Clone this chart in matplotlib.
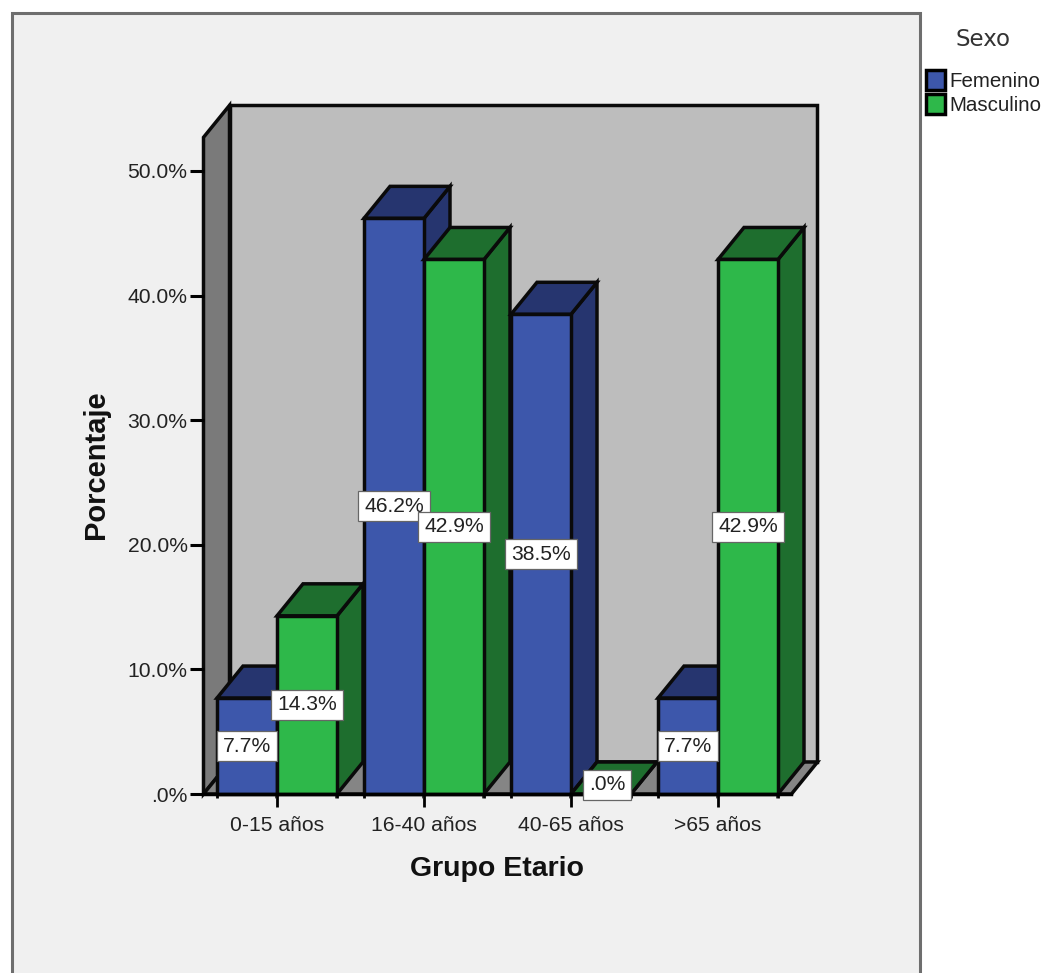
import matplotlib
matplotlib.use('Agg')
from matplotlib import pyplot as plt
from matplotlib.patches import Patch, Polygon, Rectangle

# Datos
grupos = ['0-15 años', '16-40 años', '40-65 años', '>65 años']
femenino = [7.7, 46.2, 38.5, 7.7]
masculino = [14.3, 42.9, 0.0, 42.9]
ticks_y = [0, 10, 20, 30, 40, 50]
ticks_y_txt = ['.0%', '10.0%', '20.0%', '30.0%', '40.0%', '50.0%']

# Colores: cara frontal, cara lateral/superior
azul = ('#3d57ab', '#26356f')
verde = ('#2eb84a', '#1e6e2e')

W, H = 1046, 973
fuente = 'Liberation Sans'
plt.rcParams['font.family'] = [fuente, 'DejaVu Sans']

fig = plt.figure(figsize=(W / 100, H / 100), dpi=100, facecolor='white')

# Panel gris de fondo, se corta en el borde inferior
fig.patches.append(Rectangle((12 / W, -0.02), 908 / W, 1.02 - 13 / H, transform=fig.transFigure,
                             facecolor='#f0f0f0', edgecolor='#6e6e6e', linewidth=2.2, zorder=-1))

# Ejes colocados sobre el plano frontal
izq, der, abajo, arriba = 203.5, 791.5, 794, 171
ax = fig.add_axes([izq / W, 1 - abajo / H, (der - izq) / W, (abajo - arriba) / H])
ax.set_xlim(-0.5, 3.5)
ax.set_ylim(0, 50)
ax.patch.set_visible(False)

# Profundidad del efecto 3D en unidades de datos
px_x = (der - izq) / 4
px_y = (abajo - arriba) / 50
dx = 26 / px_x
dy = 32 / px_y
ancho = 60 / px_x
techo = 52.7  # altura del plano frontal de las paredes
borde = 2.5


def poligono(puntos, color, z=1):
    ax.add_patch(Polygon(puntos, closed=True, facecolor=color, edgecolor='#0a0a0a',
                         linewidth=borde, joinstyle='miter', clip_on=False, zorder=z))


# Pared del fondo, pared izquierda y piso
x0, x1 = -0.5, 3.5
poligono([(x0 + dx, dy), (x1 + dx, dy), (x1 + dx, techo + dy), (x0 + dx, techo + dy)], '#bdbdbd')
poligono([(x0, 0), (x0 + dx, dy), (x0 + dx, techo + dy), (x0, techo)], '#7a7a7a')
poligono([(x0, 0), (x1, 0), (x1 + dx, dy), (x0 + dx, dy)], '#858585')


def barra(xi, valor, colores, z):
    xd = xi + ancho
    # cara lateral, cara superior y frente
    poligono([(xd, 0), (xd + dx, dy), (xd + dx, valor + dy), (xd, valor)], colores[1], z)
    poligono([(xi, valor), (xd, valor), (xd + dx, valor + dy), (xi + dx, valor + dy)], colores[1], z)
    poligono([(xi, 0), (xd, 0), (xd, valor), (xi, valor)], colores[0], z)


def etiqueta(x, y, valor, dx_px=0, dy_px=0):
    ax.annotate(f'{valor:.1f}%'.removeprefix('0'), (x, y), xytext=(dx_px * 0.72, dy_px * 0.72),
                textcoords='offset points', ha='center', va='center', fontsize=15.2,
                color='#222222', zorder=20, annotation_clip=False,
                bbox=dict(boxstyle='square,pad=0.27', facecolor='white', edgecolor='#666666', linewidth=0.9))


for i in range(len(grupos)):
    barra(i - ancho, femenino[i], azul, 3 + 2 * i)
    barra(i, masculino[i], verde, 4 + 2 * i)

for i in range(len(grupos)):
    etiqueta(i - ancho / 2, femenino[i] / 2, femenino[i])
    if masculino[i] == 0:
        # el cero se sube para que quede sobre la cara superior
        etiqueta(i + ancho / 2, 0, masculino[i], 6, 9)
    else:
        etiqueta(i + ancho / 2, masculino[i] / 2, masculino[i])

# Ejes y marcas
for lado in ('top', 'right', 'left'):
    ax.spines[lado].set_visible(False)
ax.spines['bottom'].set_linewidth(borde)
ax.spines['bottom'].set_zorder(15)
ax.set_yticks(ticks_y, ticks_y_txt, fontsize=15.2, color='#222222')
ax.set_xticks(range(len(grupos)), grupos, fontsize=15.2, color='#222222')
ax.set_xticks([i + s * ancho for i in range(len(grupos)) for s in (-1, 1)], minor=True)
ax.tick_params(axis='y', length=10, width=2.2, pad=1.5)
ax.tick_params(axis='x', which='major', length=9, width=2.0, pad=7)
ax.tick_params(axis='x', which='minor', length=3, width=2.0)

fig.text(497 / W, 1 - 869 / H, 'Grupo Etario', fontsize=20.5, fontweight='bold', ha='center', va='center', color='#111111')
fig.text(96 / W, 1 - 465 / H, 'Porcentaje', fontsize=21, fontweight='bold', ha='center', va='center',
         rotation=90, color='#111111')

# Leyenda
fig.text(983 / W, 1 - 39 / H, 'Sexo', family='DejaVu Sans', fontsize=16.5, ha='center', va='center', color='#333333')
manejadores = [Patch(facecolor=azul[0], edgecolor='black', linewidth=borde, label='Femenino'),
               Patch(facecolor=verde[0], edgecolor='black', linewidth=borde, label='Masculino')]
leg = fig.legend(handles=manejadores, loc='upper left', bbox_to_anchor=(925.5 / W, 1 - 70 / H),
                 frameon=False, fontsize=14.8, handlelength=0.95, handleheight=1.1, handletextpad=0.2,
                 labelspacing=0.17, borderpad=0, borderaxespad=0)
for t in leg.get_texts():
    t.set_color('#222222')

fig.savefig('out.png', dpi=100)
